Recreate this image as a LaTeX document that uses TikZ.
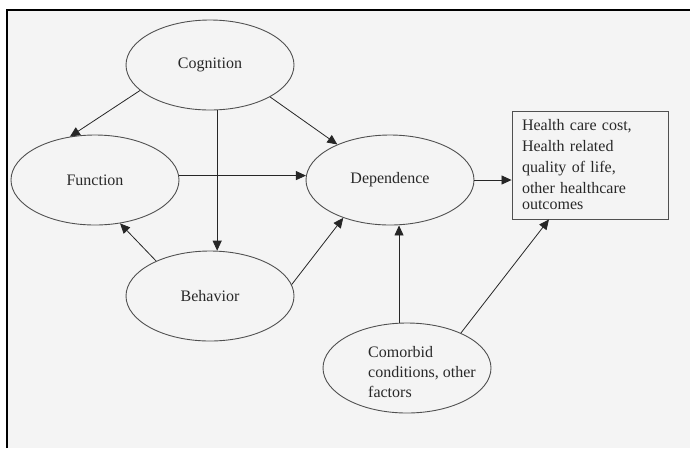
\documentclass[tikz,border=0pt]{standalone}
\usepackage{fontspec}
\setmainfont{Liberation Serif}
\usetikzlibrary{arrows.meta,shapes.geometric}
\definecolor{panelgray}{RGB}{244,244,244}
\definecolor{inkgray}{RGB}{40,40,40}
\definecolor{edgegray}{RGB}{80,80,80}
\tikzset{
 factor/.style={ellipse,draw=edgegray,line width=0.9pt,minimum width=168pt,minimum height=90pt,inner sep=0pt,align=center,text=inkgray,font=\fontsize{16}{21}\selectfont},
 outbox/.style={rectangle,draw=edgegray,line width=0.9pt,minimum width=156pt,minimum height=108pt,text width=136pt,inner xsep=10pt,align=left,text=inkgray,font=\fontsize{16}{21}\selectfont},
 note/.style={align=left,inner sep=0pt,text=inkgray,font=\fontsize{16}{20}\selectfont},
 arrow/.style={-{Triangle[length=10pt,width=9pt]},line width=0.8pt,draw=black!85}}
\begin{document}
\begin{tikzpicture}[x=1pt,y=-1pt]
\useasboundingbox (0,0) rectangle (690,448);
\fill[panelgray] (7,10) rectangle (690,448);
\draw[line width=1.2pt] (7,448) -- (7,10) -- (690,10);
% factors
\node[factor] (cog) at (210,65) {Cognition};
\node[factor] (func) at (95,180) {Function};
\node[factor] (dep) at (390,180) {Dependence};
\node[factor] (beh) at (210,296) {Behavior};
\node[factor] (com) at (407,368) {};
\node[note,anchor=west] (comtext) at (368,372) {Comorbid\\conditions, other\\factors};
\node[outbox] (outcome) at (590,165) {Health care cost,\\Health related\\quality of life,\\other healthcare\\[-5pt]outcomes};
% links
\draw[arrow] (cog.200) -- (func.120);
\draw[arrow] (cog.-81) -- (beh.81);
\draw[arrow] (cog.-28) -- (dep.146);
\draw[arrow] (func.3) -- (dep.177);
\draw[arrow] (beh.147) -- (func.-60);
\draw[arrow] (beh.8) -- (dep.219);
\draw[arrow] (dep.east) -- (dep.east -| outcome.west);
\draw[arrow] (com.100) -- (com.100 |- dep.south);
\draw[arrow] (com.33) -- (outcome.233.5);
\end{tikzpicture}
\end{document}
